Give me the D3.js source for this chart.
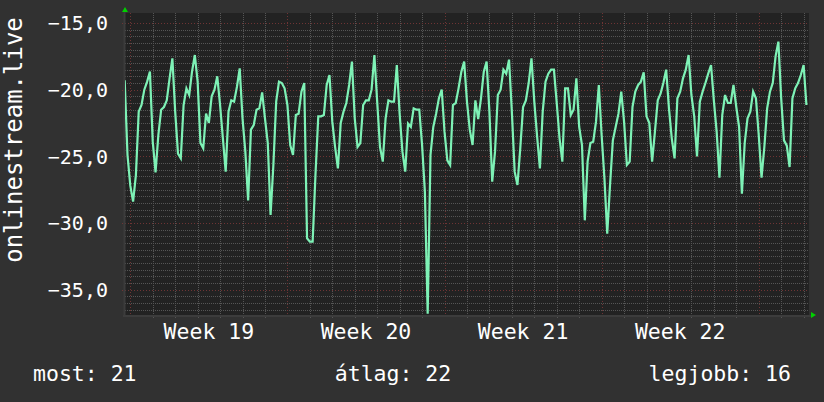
<!DOCTYPE html>
<html>
<head>
<meta charset="utf-8">
<script src="https://cdn.jsdelivr.net/npm/d3@7"></script>
<style>
  body { margin: 0; background: #313131; }
  text { font-family: "DejaVu Sans Mono", monospace; fill: #ffffff; }
</style>
</head>
<body>
<script>
// Declare global Variables

const width = 824; const height = 402;
const plotLeft = 125; const plotRight = 809;
const plotTop = 13; const plotBottom = 315;

// Signal samples, one every 3 hours, starting Sunday 18:00 before week 19
const startTime = Date.UTC(2023, 4, 7, 18, 0);
const stepHours = 3;

const week18Tail = [-19.3, -24.9];
const week19 = [
  -27.2, -28.4, -26.4, -21.65, -21.15, -20.0, -19.4, -18.65,
  -23.9, -26.2, -23.4, -21.5, -21.3, -20.8, -19.15, -17.65,
  -21.65, -24.8, -25.15, -21.15, -19.9, -20.4, -18.65, -17.4,
  -19.4, -24.0, -24.4, -21.8, -22.5, -20.5, -20.0, -19.0,
  -21.15, -23.65, -26.15, -21.65, -20.8, -20.9, -19.8, -18.4,
  -22.15, -24.65, -28.3, -23.0, -22.65, -21.5, -21.4, -20.2,
  -22.15, -24.0, -29.4, -25.65, -20.9, -19.4, -19.5, -19.9
];
const week20 = [
  -21.15, -24.15, -24.9, -21.9, -21.8, -20.15, -19.5, -31.15,
  -31.4, -31.4, -26.4, -22.0, -22.0, -21.9, -19.65, -18.9,
  -22.4, -24.3, -25.9, -22.5, -21.65, -21.0, -19.65, -17.9,
  -22.15, -24.3, -24.0, -21.15, -20.8, -20.8, -20.0, -17.4,
  -20.9, -24.3, -25.4, -22.15, -20.8, -20.9, -20.9, -18.15,
  -21.8, -24.65, -26.15, -22.55, -22.8, -21.4, -21.5, -21.5,
  -24.15, -27.65, -36.8, -24.9, -22.8, -21.8, -20.65, -20.0
];
const week21 = [
  -23.15, -25.3, -25.65, -21.15, -21.0, -19.9, -18.65, -17.9,
  -20.9, -23.0, -24.15, -20.8, -22.2, -20.65, -18.65, -17.9,
  -21.65, -26.9, -24.65, -20.4, -20.0, -18.5, -18.8, -17.75,
  -21.65, -26.15, -27.15, -24.4, -21.3, -20.8, -19.5, -17.65,
  -20.9, -23.5, -25.9, -21.65, -19.4, -18.8, -18.5, -18.5,
  -21.0, -23.65, -25.4, -19.9, -19.9, -21.9, -21.5, -19.15,
  -22.8, -24.15, -29.8, -25.4, -24.0, -23.9, -22.4, -19.65
];
const week22 = [
  -23.4, -26.65, -30.8, -27.15, -23.8, -22.8, -21.8, -20.15,
  -22.4, -25.65, -25.4, -21.3, -20.15, -19.65, -19.4, -18.7,
  -22.0, -22.5, -25.4, -23.15, -20.8, -20.3, -19.5, -18.5,
  -21.4, -23.65, -25.15, -20.65, -20.15, -19.15, -18.5, -17.4,
  -20.4, -22.0, -25.0, -20.9, -20.15, -19.5, -18.8, -18.15,
  -20.8, -23.15, -26.6, -21.9, -20.4, -21.0, -21.0, -19.65,
  -21.3, -22.8, -27.8, -24.0, -22.15, -21.65, -20.15, -20.65
];
const week23 = [
  -23.4, -26.6, -24.3, -21.4, -20.15, -19.5, -17.5, -16.4,
  -20.65, -23.8, -24.2, -25.8, -20.65, -19.9, -19.5, -18.9,
  -18.15, -21.15
];

const yTicks = [-15, -20, -25, -30, -35];
const yLabel = "onlinestream.live";
const legendNames = ["most", "átlag", "legjobb"];

const values = [].concat(week18Tail, week19, week20, week21, week22, week23);
const data = values.map((v, i) => ({ t: new Date(startTime + i * stepHours * 3600e3), v: v }));

// Scales
const xScale = d3.scaleUtc()
    .domain([new Date(Date.UTC(2023, 4, 7, 18, 20)), new Date(Date.UTC(2023, 5, 7, 5, 45))])
    .range([plotLeft, plotRight]);

const yScale = d3.scaleLinear()
    .domain([-14.25, -36.9])
    .range([plotTop, plotBottom]);

const svg = d3.select("body")
    .append("svg")
    .attr("width", width)
    .attr("height", height);

svg.append("rect")
    .attr("width", width).attr("height", height)
    .attr("fill", "#313131");

// plot canvas
svg.append("rect")
    .attr("x", plotLeft).attr("y", plotTop)
    .attr("width", plotRight - plotLeft).attr("height", plotBottom - plotTop)
    .attr("fill", "#222222");

const grid = svg.append("g");

// minor horizontal grid every 0.5
const minorY = d3.range(-15, -37, -0.5).filter(v => yScale(v) > plotTop && yScale(v) < plotBottom);
grid.selectAll(".hminor")
    .data(minorY.filter(v => v % 5 !== 0))
    .enter().append("line")
    .attr("x1", plotLeft).attr("x2", plotRight)
    .attr("y1", d => Math.round(yScale(d)) + 0.5).attr("y2", d => Math.round(yScale(d)) + 0.5)
    .attr("stroke", "#555555").attr("stroke-dasharray", "1,1");

// minor vertical grid every day
const days = xScale.ticks(d3.utcDay.every(1));
grid.selectAll(".vminor")
    .data(days.filter(d => d.getUTCDay() !== 1))
    .enter().append("line")
    .attr("x1", d => Math.round(xScale(d)) + 0.5).attr("x2", d => Math.round(xScale(d)) + 0.5)
    .attr("y1", plotTop).attr("y2", plotBottom + 3)
    .attr("stroke", "#555555").attr("stroke-dasharray", "1,1");

// major grid
grid.selectAll(".hmajor")
    .data(yTicks)
    .enter().append("line")
    .attr("x1", plotLeft - 3).attr("x2", plotRight)
    .attr("y1", d => Math.round(yScale(d)) + 0.5).attr("y2", d => Math.round(yScale(d)) + 0.5)
    .attr("stroke", "#6e3434").attr("stroke-dasharray", "1,2");

const mondays = xScale.ticks(d3.utcMonday.every(1));
grid.selectAll(".vmajor")
    .data(mondays)
    .enter().append("line")
    .attr("x1", d => Math.round(xScale(d)) + 0.5).attr("x2", d => Math.round(xScale(d)) + 0.5)
    .attr("y1", plotTop).attr("y2", plotBottom + 3)
    .attr("stroke", "#6e3434").attr("stroke-dasharray", "1,2");

// axis lines
svg.append("line")
    .attr("x1", plotLeft - 0.5).attr("x2", plotLeft - 0.5)
    .attr("y1", plotTop - 2).attr("y2", plotBottom + 2)
    .attr("stroke", "#3c3c3c").attr("stroke-width", 2);
svg.append("line")
    .attr("x1", plotLeft - 2).attr("x2", plotRight + 3)
    .attr("y1", plotBottom + 1).attr("y2", plotBottom + 1)
    .attr("stroke", "#3c3c3c").attr("stroke-width", 2);

// arrows
svg.append("path")
    .attr("d", `M${plotLeft - 3},${plotTop - 1}L${plotLeft + 3},${plotTop - 1}L${plotLeft},${plotTop - 6}Z`)
    .attr("fill", "#00d000");
svg.append("path")
    .attr("d", `M${plotRight + 2},${plotBottom - 3}L${plotRight + 2},${plotBottom + 3}L${plotRight + 7},${plotBottom}Z`)
    .attr("fill", "#00d000");

// the signal line
const line = d3.line()
    .x(d => xScale(d.t))
    .y(d => yScale(d.v));

svg.append("defs").append("clipPath").attr("id", "plotClip")
    .append("rect")
    .attr("x", plotLeft).attr("y", plotTop)
    .attr("width", plotRight - plotLeft).attr("height", plotBottom - plotTop + 2);

svg.append("path")
    .datum(data)
    .attr("clip-path", "url(#plotClip)")
    .attr("d", line)
    .attr("fill", "none")
    .attr("stroke", "#7ef2b6")
    .attr("stroke-width", 2.2)
    .attr("stroke-linejoin", "miter");

// y tick labels
svg.selectAll(".ylab")
    .data(yTicks)
    .enter().append("text")
    .attr("x", 108)
    .attr("y", d => yScale(d))
    .attr("dy", "0.36em")
    .attr("text-anchor", "end")
    .style("font-size", "20px")
    .text(d => d3.format(".1f")(d).replace(".", ","));

// week labels centred in each week
const weekStarts = d3.utcMonday.range(d3.utcMonday.offset(xScale.domain()[0], -1), xScale.domain()[1]);
svg.selectAll(".week")
    .data(weekStarts.filter(d => {
        const mid = xScale(d3.utcHour.offset(d, 84));
        return mid > plotLeft + 30 && mid < plotRight - 30;
    }))
    .enter().append("text")
    .attr("x", d => xScale(d3.utcHour.offset(d, 84)))
    .attr("y", 339)
    .attr("text-anchor", "middle")
    .style("font-size", "21.5px")
    .text(d => "Week " + d3.utcFormat("%V")(d));

// vertical title
svg.append("text")
    .attr("transform", "translate(22," + 140 + ") rotate(-90)")
    .attr("text-anchor", "middle")
    .style("font-size", "24px")
    .text(yLabel);

// legend
const last = values[values.length - 1];
const avg = d3.mean(values);
const best = d3.max(values);
const legendVals = [last, avg, best].map(v => Math.round(Math.abs(v)));

svg.append("text").attr("x", 33).attr("y", 381)
    .style("font-size", "21.5px")
    .text(legendNames[0] + ": " + legendVals[0]);
svg.append("text").attr("x", 393).attr("y", 381)
    .attr("text-anchor", "middle")
    .style("font-size", "21.5px")
    .text(legendNames[1] + ": " + legendVals[1]);
svg.append("text").attr("x", 791).attr("y", 381)
    .attr("text-anchor", "end")
    .style("font-size", "21.5px")
    .text(legendNames[2] + ": " + legendVals[2]);
</script>
</body>
</html>
